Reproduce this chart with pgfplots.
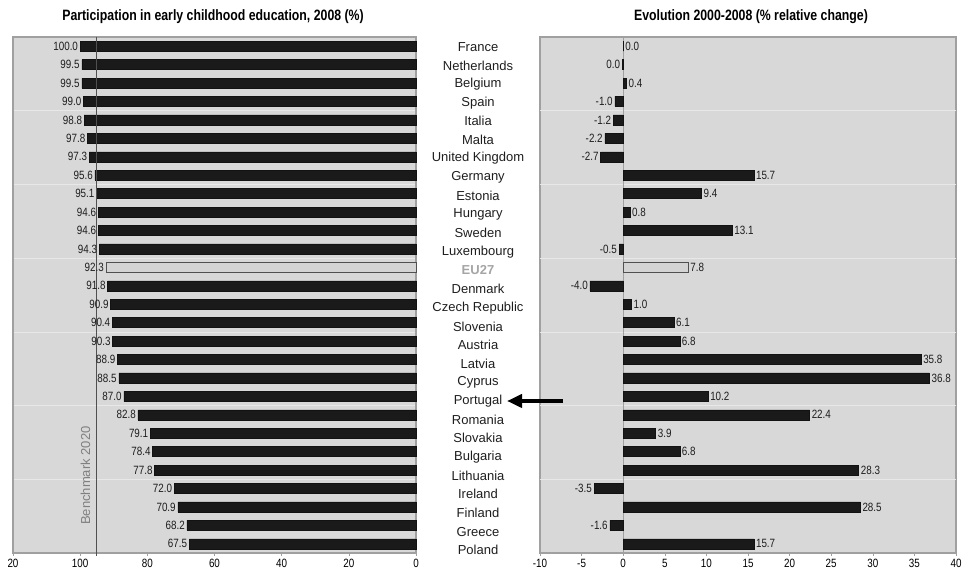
\documentclass[border=0pt]{standalone}
\usepackage{fontspec}
\setmainfont{Liberation Sans}
\newfontfamily\narrow[FakeStretch=0.82]{Liberation Sans}
\usepackage{pgfplots}
\usepackage{pgfplotstable}
\pgfplotsset{compat=1.18}
\usetikzlibrary{arrows.meta}

\definecolor{panelbg}{RGB}{216,216,216}
\definecolor{frame}{RGB}{160,160,160}
\definecolor{barc}{RGB}{26,26,26}
\definecolor{eufill}{RGB}{212,212,212}
\definecolor{eugray}{RGB}{165,165,165}
\definecolor{benchc}{RGB}{80,80,80}
\definecolor{gridc}{RGB}{232,232,232}
\definecolor{labc}{RGB}{30,30,30}

% Participation 2008 (%), row index from the top
\pgfplotstableread{
y x
0 100.0
1 99.5
2 99.5
3 99.0
4 98.8
5 97.8
6 97.3
7 95.6
8 95.1
9 94.6
10 94.6
11 94.3
13 91.8
14 90.9
15 90.4
16 90.3
17 88.9
18 88.5
19 87.0
20 82.8
21 79.1
22 78.4
23 77.8
24 72.0
25 70.9
26 68.2
27 67.5
}\partbars
\pgfplotstableread{
y x
12 92.3
}\parteu
\pgfplotstableread{
y x
0 100.0
1 99.5
2 99.5
3 99.0
4 98.8
5 97.8
6 97.3
7 95.6
8 95.1
9 94.6
10 94.6
11 94.3
12 92.3
13 91.8
14 90.9
15 90.4
16 90.3
17 88.9
18 88.5
19 87.0
20 82.8
21 79.1
22 78.4
23 77.8
24 72.0
25 70.9
26 68.2
27 67.5
}\partall

% Evolution 2000-2008 (% relative change)
\pgfplotstableread{
y x
0 0.0
1 -0.1
2 0.4
3 -1.0
4 -1.2
5 -2.2
6 -2.7
7 15.7
8 9.4
9 0.8
10 13.1
11 -0.5
13 -4.0
14 1.0
15 6.1
16 6.8
17 35.8
18 36.8
19 10.2
20 22.4
21 3.9
22 6.8
23 28.3
24 -3.5
25 28.5
26 -1.6
27 15.7
}\evobars
\pgfplotstableread{
y x
12 7.8
}\evoeu
\pgfplotstableread{
y x lab
0 0.0 0.0
2 0.4 0.4
7 15.7 15.7
8 9.4 9.4
9 0.8 0.8
10 13.1 13.1
12 7.8 7.8
14 1.0 1.0
15 6.1 6.1
16 6.8 6.8
17 35.8 35.8
18 36.8 36.8
19 10.2 10.2
20 22.4 22.4
21 3.9 3.9
22 6.8 6.8
23 28.3 28.3
25 28.5 28.5
27 15.7 15.7
}\evopos
\pgfplotstableread{
y x lab
1 -0.1 0.0
3 -1.0 -1.0
4 -1.2 -1.2
5 -2.2 -2.2
6 -2.7 -2.7
11 -0.5 -0.5
13 -4.0 -4.0
24 -3.5 -3.5
26 -1.6 -1.6
}\evoneg

\pgfplotsset{
  panel/.style={
    scale only axis, anchor=south west, height=516pt,
    ymin=-0.5, ymax=27.5, y dir=reverse,
    axis background/.style={fill=panelbg},
    axis line style={draw=frame, line width=1.2pt},
    tick align=outside, major tick length=3pt,
    xtick pos=bottom, x tick style={draw=frame, line width=0.6pt},
    xticklabel style={font=\narrow\fontsize{12}{12}\selectfont, text=black},
    y tick style={draw=none},
    /pgf/number format/assume math mode=true,
    clip=false,
  },
  barstyle/.style={xbar, bar width=10pt, bar shift=0pt, fill=barc, draw=barc!70!black, line width=0.5pt},
  eustyle/.style={xbar, bar width=10pt, bar shift=0pt, fill=eufill, draw=benchc, line width=0.8pt},
  vallab/.style={draw=none, forget plot, nodes near coords,
    every node near coord/.style={anchor=#1, inner sep=2pt, text=labc,
      font=\narrow\fontsize{12}{12}\selectfont}},
}

\begin{document}
\begin{tikzpicture}[x=1pt,y=1pt]
\useasboundingbox (0,0) rectangle (965,577);

% titles
\node[font=\narrow\bfseries\fontsize{15}{15}\selectfont] at (213,560)
  {Participation in early childhood education, 2008 (\%)};
\node[font=\narrow\bfseries\fontsize{15}{15}\selectfont] at (751,560)
  {Evolution 2000-2008 (\% relative change)};

% left panel: participation, reversed axis
\begin{axis}[panel, at={(13pt,24pt)}, width=403pt,
  x dir=reverse, xmin=0, xmax=120,
  xtick={0,20,...,120}, xticklabels={0,20,40,60,80,100,20},
  ytick={3.5,7.5,...,23.5}, yticklabels={},
  ymajorgrids, grid style={draw=gridc, line width=0.6pt},
  /pgf/number format/.cd, fixed, fixed zerofill, precision=1, assume math mode=true]
\addplot[barstyle] table[x=x,y=y] {\partbars};
\addplot[eustyle] table[x=x,y=y] {\parteu};
\addplot[vallab=east, point meta=x] table[x=x,y=y] {\partall};
% benchmark 2020 at 95 %
\draw[benchc, line width=1pt] (axis cs:95,-0.5) -- ([yshift=-3pt]axis cs:95,27.5);
\node[rotate=90, text=gray, font=\fontsize{13}{13}\selectfont] at (axis cs:98.4,23.3) {Benchmark 2020};
\end{axis}

% right panel: relative change
\begin{axis}[panel, at={(540pt,24pt)}, width=416pt,
  xmin=-10, xmax=40, xtick={-10,-5,...,40},
  ytick={0,...,27},
  yticklabels={France,Netherlands,Belgium,Spain,Italia,Malta,United Kingdom,
    Germany,Estonia,Hungary,Sweden,Luxembourg,{\textcolor{eugray}{\bfseries EU27}},
    Denmark,Czech Republic,Slovenia,Austria,Latvia,Cyprus,Portugal,Romania,
    Slovakia,Bulgaria,Lithuania,Ireland,Finland,Greece,Poland},
  yticklabel style={anchor=center, xshift=-59pt, yshift={-0.5-0.22*\ticknum},
    font=\fontsize{13}{13}\selectfont, text=labc},
  extra y ticks={3.5,7.5,...,23.5}, extra y tick labels={},
  extra y tick style={grid=major, grid style={draw=gridc, line width=0.6pt}}]
\draw[frame, line width=0.6pt] (axis cs:0,-0.5) -- (axis cs:0,27.5);
\addplot[barstyle] table[x=x,y=y] {\evobars};
\addplot[eustyle] table[x=x,y=y] {\evoeu};
\addplot[vallab=west, point meta=explicit symbolic] table[x=x,y=y,meta=lab] {\evopos};
\addplot[vallab=east, point meta=explicit symbolic] table[x=x,y=y,meta=lab] {\evoneg};
\end{axis}

% pointer to Portugal
\draw[black, line width=4.5pt, -{Triangle[length=15pt,width=13pt]}] (563,176) -- (507,176);
\end{tikzpicture}
\end{document}
